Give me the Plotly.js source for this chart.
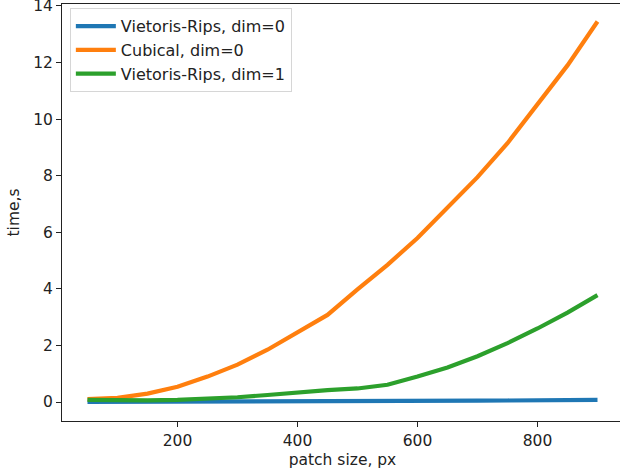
<!DOCTYPE html>
<html>
<head>
<meta charset="utf-8">
<script src="https://cdn.plot.ly/plotly-3.0.1.min.js"></script>
<style>
html,body{margin:0;padding:0;overflow:hidden;background:#fff;}
#chart{width:624px;height:476px;}
</style>
</head>
<body>
<div id="chart"></div>
<script>
const patchSize = [50,100,150,200,250,300,350,400,450,500,550,600,650,700,750,800,850,900];
const vrDim0 = [0.005,0.006,0.008,0.01,0.012,0.015,0.018,0.021,0.025,0.029,0.033,0.038,0.043,0.049,0.055,0.062,0.07,0.078];
const cubicalDim0 = [0.1,0.15,0.3,0.54,0.9,1.32,1.85,2.45,3.08,3.98,4.85,5.8,6.85,7.95,9.15,10.5,11.9,13.45];
const vrDim1 = [0.08,0.06,0.06,0.08,0.11,0.17,0.25,0.35,0.42,0.48,0.61,0.9,1.22,1.62,2.08,2.6,3.16,3.78];
const seriesNames = ["Vietoris-Rips, dim=0","Cubical, dim=0","Vietoris-Rips, dim=1"];
const yTicks = [0,2,4,6,8,10,12,14];
const xTicks = [200,400,600,800];

const colors = ["#1f77b4","#ff7f0e","#2ca02c"];
const ys = [vrDim0, cubicalDim0, vrDim1];
const traces = ys.map((y,i)=>({
  x: patchSize, y: y, type:'scatter', mode:'lines', name: seriesNames[i],
  legendgroup: 'g'+i,
  line:{color:colors[i], width:4.2}
}));
const FS = 15.5;
const fnt = (s) => ({family:'DejaVu Sans, sans-serif', size:s||FS, color:'#222'});
const layout = {
  width:624, height:476,
  margin:{l:62,r:1,t:4,b:55},
  paper_bgcolor:'#fff', plot_bgcolor:'#fff',
  font: fnt(),
  showlegend:true,
  legend:{x:0.014,y:0.99,xanchor:'left',yanchor:'top',
    bgcolor:'rgba(255,255,255,0.8)',bordercolor:'#d6d6d6',borderwidth:1,
    itemwidth:40,
    font:fnt(16), traceorder:'grouped', tracegroupgap:0},
  xaxis:{range:[7.5,942.5], tickvals:xTicks, ticktext:xTicks.map(String),
    showgrid:false, zeroline:false, showline:true, mirror:true, linecolor:'#222', linewidth:1,
    ticks:'outside', ticklen:5, tickcolor:'#222', automargin:false, ticklabeloverflow:'allow',
    tickfont:fnt(),
    title:{text:'patch size, px', font:fnt(), standoff:5}},
  yaxis:{range:[-0.67,14.07], tickvals:yTicks, ticktext:yTicks.map(String),
    showgrid:false, zeroline:false, showline:true, mirror:true, linecolor:'#222', linewidth:1,
    ticks:'outside', ticklen:5, tickcolor:'#222', automargin:false, ticklabeloverflow:'allow',
    tickfont:fnt(),
    title:{text:'time,s', font:fnt(), standoff:9}}
};
Plotly.newPlot('chart', traces, layout, {displayModeBar:false, staticPlot:true});
</script>
</body>
</html>
